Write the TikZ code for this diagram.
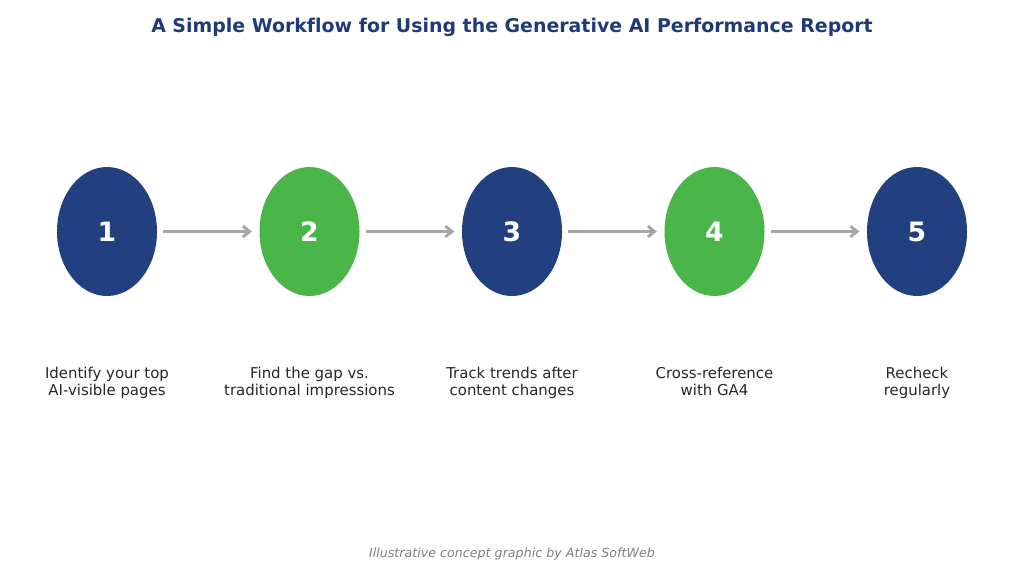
\documentclass[tikz,border=0pt]{standalone}
\usepackage{fontspec}
\setmainfont{DejaVu Sans}[Ligatures=NoCommon]
\usetikzlibrary{shapes.geometric,arrows.meta}
\definecolor{navy}{HTML}{223F7F}
\definecolor{grn}{HTML}{4AB649}
\definecolor{titleblue}{HTML}{1F3A7A}
\definecolor{txt}{HTML}{262626}
\definecolor{arrgray}{HTML}{A6A6A6}
\definecolor{foot}{HTML}{808080}
\begin{document}
\begin{tikzpicture}[x=0.75pt,y=-0.75pt,
  stepnode/.style={ellipse,inner sep=0pt,minimum width=75pt,minimum height=96.75pt,text=white,font=\bfseries\fontsize{20}{24}\selectfont},
  bluestep/.style={stepnode,fill=navy},
  greenstep/.style={stepnode,fill=grn},
  lbl/.style={align=center,text=txt,font=\fontsize{11.2}{12.75}\selectfont,inner sep=0pt,anchor=base},
  arr/.style={draw=arrgray,line width=2.2pt,-{Straight Barb[length=5pt,width=8pt]},shorten <=4.5pt,shorten >=5.5pt}]
\useasboundingbox (0,0) rectangle (1024,569);
\node[text=titleblue,font=\bfseries\fontsize{14.2}{17}\selectfont] (title) at (512,27.5) {A Simple Workflow for Using the Generative AI Performance Report};
\node[bluestep] (n1) at (107,231.5) {1};
\node[greenstep] (n2) at (309.5,231.5) {2};
\node[bluestep] (n3) at (512,231.5) {3};
\node[greenstep] (n4) at (714.5,231.5) {4};
\node[bluestep] (n5) at (917,231.5) {5};
\draw[arr] (n1) -- (n2);
\draw[arr] (n2) -- (n3);
\draw[arr] (n3) -- (n4);
\draw[arr] (n4) -- (n5);
\node[lbl] (l1) at (107,395.5) {Identify your top\\AI-visible pages};
\node[lbl] (l2) at (309.5,395.5) {Find the gap vs.\\traditional impressions};
\node[lbl] (l3) at (512,395.5) {Track trends after\\content changes};
\node[lbl] (l4) at (714.5,395.5) {Cross-reference\\with GA4};
\node[lbl] (l5) at (917,395.5) {Recheck\\regularly};
\node[text=foot,font=\itshape\fontsize{9.5}{12}\selectfont] (footer) at (512,553.5) {Illustrative concept graphic by Atlas SoftWeb};
\end{tikzpicture}
\end{document}
